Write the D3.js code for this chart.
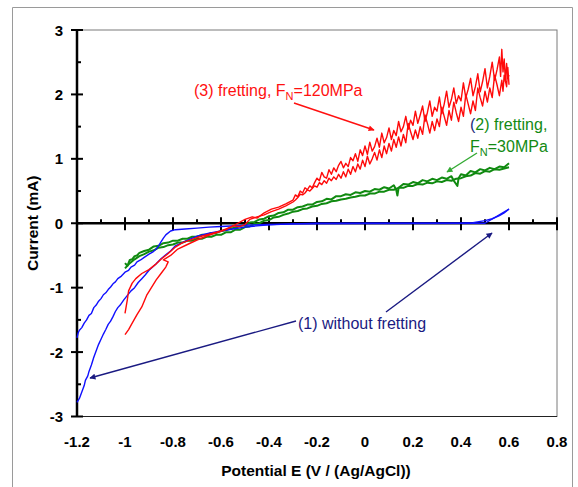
<!DOCTYPE html>
<html>
<head>
<meta charset="utf-8">
<script src="https://cdn.jsdelivr.net/npm/d3@7"></script>
<style>
  body { margin: 0; background: #fff; }
  svg { display: block; font-family: Arial, "Liberation Sans", sans-serif; }
</style>
</head>
<body>
<svg id="chart" width="578" height="487"></svg>
<script>
// tick values
const xTicks = [-1.2, -1, -0.8, -0.6, -0.4, -0.2, 0, 0.2, 0.4, 0.6, 0.8];
const xMinor = [-1.1, -0.9, -0.7, -0.5, -0.3, -0.1, 0.1, 0.3, 0.5, 0.7];
const yTicks = [-3, -2, -1, 0, 1, 2, 3];
const yMinor = [-2.5, -1.5, -0.5, 0.5, 1.5, 2.5];

// (1) without fretting - forward and return scan [E, I]
const blueFwd = [[-1.2,-1.78],[-1.195,-1.70],[-1.19,-1.66],[-1.18,-1.62],[-1.17,-1.55],[-1.16,-1.50],[-1.15,-1.43],
  [-1.14,-1.40],[-1.13,-1.31],[-1.12,-1.27],[-1.11,-1.21],[-1.10,-1.17],[-1.09,-1.11],[-1.08,-1.08],[-1.07,-1.03],
  [-1.06,-0.99],[-1.05,-0.94],[-1.04,-0.91],[-1.03,-0.86],[-1.015,-0.82],[-1.0,-0.76],[-0.985,-0.73],[-0.975,-0.68],
  [-0.96,-0.65],[-0.95,-0.60],[-0.935,-0.57],[-0.92,-0.53],[-0.9,-0.48],[-0.885,-0.45],[-0.87,-0.40],[-0.86,-0.35],
  [-0.85,-0.29],[-0.84,-0.23],[-0.83,-0.18],[-0.81,-0.12],[-0.79,-0.10],[-0.75,-0.09],[-0.7,-0.075],[-0.65,-0.06],
  [-0.6,-0.05],[-0.5,-0.03],[-0.4,-0.02],[-0.3,-0.01],[-0.2,0.0],[0.0,0.0],[0.2,0.0],[0.4,0.0],[0.45,0.01],
  [0.5,0.04],[0.53,0.07],[0.56,0.12],[0.58,0.16],[0.6,0.22]];
const blueRet = [[0.6,0.22],[0.5,0.0],[0.0,-0.005],[-0.3,-0.01],[-0.4,-0.025],[-0.45,-0.04],[-0.5,-0.06],[-0.55,-0.09],
  [-0.6,-0.12],[-0.65,-0.155],[-0.7,-0.20],[-0.75,-0.28],[-0.79,-0.35],[-0.81,-0.43],[-0.83,-0.49],[-0.85,-0.55],
  [-0.87,-0.63],[-0.885,-0.68],[-0.9,-0.73],[-0.915,-0.80],[-0.93,-0.86],[-0.945,-0.92],[-0.96,-1.0],[-0.975,-1.05],
  [-0.99,-1.12],[-1.005,-1.19],[-1.02,-1.27],[-1.03,-1.31],[-1.04,-1.37],[-1.05,-1.45],[-1.06,-1.52],[-1.07,-1.57],
  [-1.08,-1.65],[-1.09,-1.72],[-1.1,-1.80],[-1.11,-1.88],[-1.12,-1.98],[-1.13,-2.08],[-1.14,-2.2],[-1.15,-2.30],
  [-1.155,-2.37],[-1.165,-2.44],[-1.17,-2.52],[-1.18,-2.62],[-1.19,-2.72],[-1.2,-2.78]];

// (2) fretting, FN=30MPa
const greenFwd = [[-1.0,-0.62],[-0.99,-0.66],[-0.98,-0.57],[-0.97,-0.56],[-0.96,-0.51],[-0.95,-0.50],[-0.94,-0.46],
  [-0.92,-0.43],[-0.90,-0.41],[-0.88,-0.36],[-0.86,-0.35],[-0.84,-0.31],[-0.82,-0.30],[-0.80,-0.27],[-0.78,-0.27],
  [-0.76,-0.24],[-0.74,-0.24],[-0.72,-0.21],[-0.70,-0.21],[-0.68,-0.18],[-0.66,-0.18],[-0.64,-0.15],[-0.62,-0.15],
  [-0.60,-0.12],[-0.58,-0.11],[-0.56,-0.08],[-0.54,-0.07],[-0.52,-0.04],[-0.50,-0.03],[-0.48,0.01],[-0.46,0.02],
  [-0.44,0.06],[-0.42,0.07],[-0.40,0.11],[-0.38,0.12],[-0.36,0.16],[-0.34,0.17],[-0.32,0.21],[-0.30,0.21],
  [-0.28,0.25],[-0.26,0.26],[-0.24,0.29],[-0.22,0.29],[-0.20,0.33],[-0.18,0.34],[-0.16,0.38],[-0.14,0.37],
  [-0.12,0.42],[-0.10,0.42],[-0.08,0.45],[-0.06,0.44],[-0.04,0.48],[-0.02,0.47],[0.00,0.50],[0.02,0.49],
  [0.04,0.53],[0.06,0.52],[0.08,0.56],[0.10,0.54],[0.12,0.59],[0.13,0.52],[0.135,0.43],[0.14,0.55],[0.16,0.61],
  [0.18,0.60],[0.20,0.64],[0.22,0.62],[0.24,0.67],[0.26,0.65],[0.28,0.69],[0.30,0.67],[0.32,0.71],[0.34,0.69],
  [0.36,0.73],[0.37,0.66],[0.385,0.58],[0.39,0.70],[0.40,0.76],[0.42,0.74],[0.44,0.81],[0.46,0.79],[0.48,0.84],
  [0.50,0.82],[0.52,0.86],[0.54,0.84],[0.56,0.88],[0.58,0.87],[0.60,0.93]];
const greenRet = [[0.60,0.87],[0.58,0.85],[0.56,0.83],[0.54,0.84],[0.52,0.80],[0.50,0.81],[0.48,0.77],[0.46,0.78],
  [0.44,0.74],[0.42,0.73],[0.40,0.70],[0.38,0.69],[0.36,0.66],[0.34,0.67],[0.32,0.64],[0.30,0.65],[0.28,0.62],
  [0.26,0.63],[0.24,0.60],[0.22,0.61],[0.20,0.58],[0.18,0.58],[0.16,0.55],[0.14,0.55],[0.12,0.52],[0.10,0.52],
  [0.08,0.49],[0.06,0.49],[0.04,0.46],[0.02,0.46],[0.00,0.43],[-0.02,0.43],[-0.04,0.41],[-0.06,0.40],[-0.08,0.38],
  [-0.10,0.37],[-0.12,0.35],[-0.14,0.34],[-0.16,0.31],[-0.18,0.30],[-0.20,0.27],[-0.22,0.26],[-0.24,0.23],
  [-0.26,0.22],[-0.28,0.19],[-0.30,0.18],[-0.32,0.15],[-0.34,0.13],[-0.36,0.10],[-0.38,0.09],[-0.40,0.05],
  [-0.42,0.04],[-0.44,0.00],[-0.46,-0.01],[-0.48,-0.05],[-0.50,-0.06],[-0.52,-0.10],[-0.54,-0.10],[-0.56,-0.14],
  [-0.58,-0.14],[-0.60,-0.18],[-0.62,-0.18],[-0.64,-0.21],[-0.66,-0.21],[-0.68,-0.24],[-0.70,-0.24],[-0.72,-0.27],
  [-0.74,-0.27],[-0.76,-0.30],[-0.78,-0.30],[-0.80,-0.33],[-0.82,-0.34],[-0.84,-0.37],[-0.86,-0.38],[-0.88,-0.42],
  [-0.90,-0.44],[-0.92,-0.48],[-0.94,-0.51],[-0.96,-0.56],[-0.98,-0.62],[-1.0,-0.70]];

// (3) fretting, FN=120MPa
const redFwd = [[-1.0,-1.40],[-0.99,-1.18],[-0.985,-1.05],[-0.97,-0.93],[-0.955,-0.86],[-0.93,-0.78],[-0.9,-0.72],
  [-0.87,-0.63],[-0.85,-0.56],[-0.82,-0.47],[-0.79,-0.37],[-0.76,-0.30],[-0.72,-0.25],[-0.69,-0.21],[-0.65,-0.17],
  [-0.6,-0.12],[-0.56,-0.06],[-0.53,0.0],[-0.5,0.06],[-0.47,0.10],[-0.45,0.08],[-0.42,0.16],[-0.39,0.22],
  [-0.36,0.25],[-0.33,0.30],[-0.30,0.36],[-0.29,0.44],[-0.28,0.41],[-0.27,0.50],[-0.26,0.47],[-0.25,0.55],
  [-0.24,0.52],[-0.23,0.58],[-0.22,0.55],[-0.21,0.63],[-0.20,0.70],[-0.19,0.66],[-0.18,0.79],[-0.17,0.72],
  [-0.16,0.70],[-0.15,0.83],[-0.14,0.76],[-0.13,0.86],[-0.12,0.80],[-0.11,0.90],[-0.10,0.96],[-0.09,0.86],
  [-0.08,0.93],[-0.07,0.88],[-0.06,1.02],[-0.05,0.97],[-0.04,1.08],[-0.03,0.96],[-0.02,1.14],[-0.01,1.05],
  [0.00,1.20],[0.01,1.07],[0.02,1.26],[0.03,1.12],[0.04,1.19],[0.05,1.32],[0.06,1.18],[0.07,1.40],[0.08,1.25],
  [0.09,1.33],[0.10,1.48],[0.11,1.30],[0.12,1.44],[0.13,1.36],[0.14,1.58],[0.15,1.42],[0.16,1.50],[0.17,1.66],
  [0.18,1.46],[0.19,1.60],[0.20,1.52],[0.21,1.74],[0.22,1.55],[0.23,1.68],[0.24,1.82],[0.25,1.58],[0.26,1.72],
  [0.27,1.90],[0.28,1.66],[0.29,1.80],[0.30,1.74],[0.31,1.96],[0.32,1.70],[0.33,1.85],[0.34,2.05],[0.35,1.80],
  [0.36,1.92],[0.37,2.10],[0.38,1.86],[0.39,1.98],[0.40,1.90],[0.41,2.18],[0.42,1.95],[0.43,2.08],[0.44,2.25],
  [0.45,1.98],[0.46,2.12],[0.47,2.32],[0.48,2.04],[0.49,2.20],[0.50,2.40],[0.51,2.10],[0.52,2.28],[0.53,2.50],
  [0.54,2.22],[0.55,2.38],[0.56,2.58],[0.565,2.28],[0.57,2.70],[0.575,2.35],[0.58,2.55],[0.585,2.20],
  [0.59,2.48],[0.595,2.25],[0.6,2.30]];
const redRet = [[0.6,2.15],[0.595,2.42],[0.59,2.12],[0.58,2.30],[0.575,2.05],[0.57,2.22],[0.56,1.98],[0.55,2.15],
  [0.54,2.30],[0.53,1.95],[0.52,2.10],[0.51,1.88],[0.50,2.05],[0.49,1.82],[0.48,1.95],[0.47,2.10],[0.46,1.75],
  [0.45,1.90],[0.44,1.70],[0.43,1.85],[0.42,2.00],[0.41,1.66],[0.40,1.80],[0.39,1.58],[0.38,1.72],[0.37,1.88],
  [0.36,1.60],[0.35,1.75],[0.34,1.52],[0.33,1.66],[0.32,1.80],[0.31,1.50],[0.30,1.62],[0.29,1.44],[0.28,1.58],
  [0.27,1.40],[0.26,1.55],[0.25,1.68],[0.24,1.38],[0.23,1.50],[0.22,1.32],[0.21,1.45],[0.20,1.30],[0.19,1.42],
  [0.18,1.55],[0.17,1.25],[0.16,1.38],[0.15,1.20],[0.14,1.34],[0.13,1.18],[0.12,1.30],[0.11,1.12],[0.10,1.24],
  [0.09,1.08],[0.08,1.20],[0.07,1.02],[0.06,1.14],[0.05,0.98],[0.04,1.10],[0.03,1.00],[0.02,0.92],[0.01,1.04],
  [0.00,0.88],[-0.01,0.98],[-0.02,0.84],[-0.03,0.92],[-0.04,0.80],[-0.05,0.88],[-0.06,0.76],[-0.07,0.84],
  [-0.08,0.72],[-0.09,0.80],[-0.10,0.70],[-0.11,0.76],[-0.12,0.68],[-0.13,0.72],[-0.14,0.66],[-0.15,0.70],
  [-0.16,0.62],[-0.17,0.66],[-0.18,0.60],[-0.19,0.63],[-0.20,0.56],[-0.21,0.58],[-0.22,0.54],[-0.23,0.50],
  [-0.24,0.52],[-0.25,0.47],[-0.26,0.44],[-0.27,0.45],[-0.28,0.40],[-0.29,0.36],[-0.30,0.33],[-0.33,0.27],
  [-0.36,0.22],[-0.39,0.18],[-0.42,0.13],[-0.45,0.10],[-0.48,0.06],[-0.5,-0.02],[-0.52,-0.05],[-0.55,-0.04],
  [-0.58,-0.1],[-0.62,-0.15],[-0.66,-0.2],[-0.7,-0.26],[-0.74,-0.33],[-0.78,-0.40],[-0.81,-0.50],[-0.84,-0.57],
  [-0.82,-0.60],[-0.83,-0.68],[-0.85,-0.78],[-0.87,-0.88],[-0.89,-1.0],[-0.91,-1.12],[-0.93,-1.3],[-0.95,-1.42],
  [-0.97,-1.55],[-0.985,-1.65],[-1.0,-1.73]];

const svg = d3.select("#chart");
const x = d3.scaleLinear().domain([-1.2, 0.8]).range([77, 557]);
const y = d3.scaleLinear().domain([-3, 3]).range([416.5, 30]);

// outer frame of the figure
svg.append("path")
    .attr("d", "M12.5,487 V7.5 H572.5 V487")
    .attr("fill", "none")
    .attr("stroke", "#9a9a9a");

// plot frame
svg.append("rect")
    .attr("x", x(-1.2)).attr("y", y(3))
    .attr("width", x(0.8) - x(-1.2)).attr("height", y(-3) - y(3))
    .attr("fill", "none").attr("stroke", "#7a7a7a").attr("stroke-width", 1);
svg.append("line")
    .attr("x1", x(-1.2)).attr("x2", x(0.8))
    .attr("y1", y(-3)).attr("y2", y(-3))
    .attr("stroke", "#222");

// y axis
const y0 = y(0);
svg.append("line")
    .attr("x1", x(-1.2)).attr("x2", x(-1.2))
    .attr("y1", y(3)).attr("y2", y(-3))
    .attr("stroke", "#000").attr("stroke-width", 2.5);
svg.selectAll(".ytick").data(yTicks).join("line")
    .attr("x1", x(-1.2) - 6).attr("x2", x(-1.2) + 6)
    .attr("y1", d => y(d)).attr("y2", d => y(d))
    .attr("stroke", "#000").attr("stroke-width", 2);
svg.selectAll(".yminor").data(yMinor).join("line")
    .attr("x1", x(-1.2)).attr("x2", x(-1.2) + 4)
    .attr("y1", d => y(d)).attr("y2", d => y(d))
    .attr("stroke", "#000").attr("stroke-width", 2);
svg.selectAll(".ylabel").data(yTicks).join("text")
    .attr("x", x(-1.2) - 14).attr("y", d => y(d) + 5.5)
    .attr("text-anchor", "end")
    .attr("font-size", 15).attr("font-weight", "bold")
    .text(d => d);

// x axis at zero current
svg.append("line")
    .attr("x1", x(-1.2)).attr("x2", x(0.8))
    .attr("y1", y0).attr("y2", y0)
    .attr("stroke", "#000").attr("stroke-width", 2.5);
svg.selectAll(".xtick").data(xTicks).join("line")
    .attr("x1", d => x(d)).attr("x2", d => x(d))
    .attr("y1", y0 - 6).attr("y2", y0 + 7)
    .attr("stroke", "#000").attr("stroke-width", 2);
svg.selectAll(".xminor").data(xMinor).join("line")
    .attr("x1", d => x(d)).attr("x2", d => x(d))
    .attr("y1", y0 - 4).attr("y2", y0)
    .attr("stroke", "#000").attr("stroke-width", 2);
svg.selectAll(".xlabel").data(xTicks).join("text")
    .attr("x", d => x(d)).attr("y", 447)
    .attr("text-anchor", "middle")
    .attr("font-size", 15).attr("font-weight", "bold")
    .text(d => d);

// axis titles
svg.append("text")
    .attr("x", 316).attr("y", 476)
    .attr("text-anchor", "middle")
    .attr("font-size", 15.5).attr("font-weight", "bold")
    .text("Potential E (V / (Ag/AgCl))");
svg.append("text")
    .attr("transform", `translate(38,${y0}) rotate(-90)`)
    .attr("text-anchor", "middle")
    .attr("font-size", 15.5).attr("font-weight", "bold")
    .text("Current (mA)");

// curves
const line = d3.line().x(d => x(d[0])).y(d => y(d[1]));
const curves = [
    { data: greenRet, color: "#108a10", w: 2 },
    { data: greenFwd, color: "#108a10", w: 2 },
    { data: blueFwd, color: "#1010ff", w: 1.4 },
    { data: blueRet, color: "#1010ff", w: 1.4 },
    { data: redFwd, color: "#ff0a0a", w: 1.4 },
    { data: redRet, color: "#ff0a0a", w: 1.4 }
];
svg.selectAll(".curve").data(curves).join("path")
    .attr("class", "curve")
    .attr("d", d => line(d.data))
    .attr("fill", "none")
    .attr("stroke", d => d.color)
    .attr("stroke-width", d => d.w)
    .attr("stroke-linejoin", "round");

// arrowheads
const defs = svg.append("defs");
[["navy", "#1a1a82"], ["red", "#ff1010"], ["green", "#33aa33"]].forEach(([id, c]) => {
    defs.append("marker")
        .attr("id", "arr-" + id)
        .attr("viewBox", "0 0 10 10")
        .attr("refX", 9).attr("refY", 5)
        .attr("markerWidth", 7).attr("markerHeight", 6)
        .attr("markerUnits", "userSpaceOnUse")
        .attr("orient", "auto")
        .append("path").attr("d", "M0,0 L10,5 L0,10 z").attr("fill", c);
});

const arrows = [
    { from: [294, 103], to: [374, 130], id: "red", c: "#ff1010" },
    { from: [477, 153], to: [447, 172], id: "green", c: "#33aa33" },
    { from: [296, 321], to: [90, 378], id: "navy", c: "#1a1a82" },
    { from: [386, 312], to: [492, 233], id: "navy", c: "#1a1a82" }
];
svg.selectAll(".arrow").data(arrows).join("line")
    .attr("x1", d => d.from[0]).attr("y1", d => d.from[1])
    .attr("x2", d => d.to[0]).attr("y2", d => d.to[1])
    .attr("stroke", d => d.c).attr("stroke-width", 1.4)
    .attr("marker-end", d => `url(#arr-${d.id})`);

// annotations
const t3 = svg.append("text").attr("x", 194).attr("y", 96)
    .attr("font-size", 16).attr("fill", "#ff1010");
t3.append("tspan").text("(3) fretting, F");
t3.append("tspan").attr("font-size", 11).attr("dy", 4).text("N");
t3.append("tspan").attr("dy", -4).text("=120MPa");

const t2 = svg.append("text").attr("x", 470).attr("y", 130)
    .attr("font-size", 16).attr("fill", "#138a13");
t2.append("tspan").attr("fill", "#1a2a7a").text("(");
t2.append("tspan").text("2) fretting,");
const t2b = svg.append("text").attr("x", 470).attr("y", 152)
    .attr("font-size", 16).attr("fill", "#138a13");
t2b.append("tspan").text("F");
t2b.append("tspan").attr("font-size", 11).attr("dy", 4).text("N");
t2b.append("tspan").attr("dy", -4).text("=30MPa");

svg.append("text").attr("x", 298).attr("y", 329)
    .attr("font-size", 16).attr("fill", "#1a1a82")
    .text("(1) without fretting");
</script>
</body>
</html>
